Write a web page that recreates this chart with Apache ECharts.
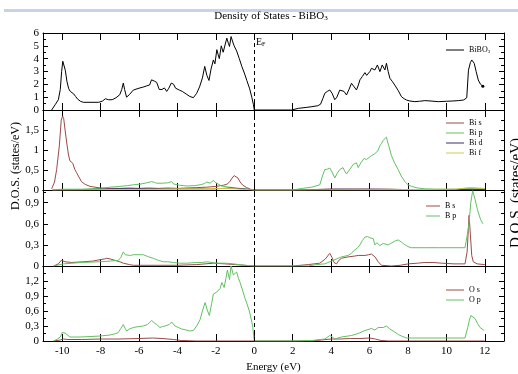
<!DOCTYPE html>
<html>
<head>
<meta charset="utf-8">
<script src="https://cdn.jsdelivr.net/npm/echarts@6/dist/echarts.min.js"></script>
<style>
  html, body { margin: 0; padding: 0; background: #fff; }
  #chart { width: 518px; height: 374px; }
</style>
</head>
<body>
<div id="chart"></div>
<script>
// Energy grid ticks (eV)
const energyTicks = [-10, -8, -6, -4, -2, 0, 2, 4, 6, 8, 10, 12];

// Total density of states, BiBO3: [energy, states/eV]
const totalDos = [[-10.55,0],[-10.35,0.45],[-10.2,0.8],[-10.1,1.6],[-10.03,3.0],[-9.97,3.8],[-9.9,3.7],[-9.84,3.1],[-9.75,2.2],[-9.66,1.65],[-9.58,1.45],[-9.5,1.5],[-9.4,1.25],[-9.3,1.05],[-9.2,0.85],[-9.05,0.68],[-8.9,0.6],[-8.5,0.6],[-8.1,0.6],[-7.9,0.7],[-7.75,0.88],[-7.6,0.8],[-7.4,0.8],[-7.2,0.95],[-7.0,1.2],[-6.9,1.6],[-6.82,2.1],[-6.75,1.6],[-6.65,1.0],[-6.5,1.2],[-6.3,1.55],[-6.0,1.7],[-5.8,1.78],[-5.6,1.88],[-5.45,1.95],[-5.35,2.35],[-5.2,2.25],[-5.08,2.15],[-4.95,1.6],[-4.8,1.6],[-4.68,1.72],[-4.56,1.45],[-4.45,1.7],[-4.32,2.1],[-4.2,2.0],[-4.1,1.7],[-3.9,1.55],[-3.75,1.45],[-3.55,1.25],[-3.35,1.05],[-3.17,0.96],[-3.0,1.3],[-2.85,1.8],[-2.7,2.5],[-2.58,3.4],[-2.47,2.7],[-2.36,2.3],[-2.25,3.2],[-2.13,3.9],[-2.05,3.6],[-1.95,4.7],[-1.88,4.3],[-1.82,4.0],[-1.72,5.0],[-1.62,4.5],[-1.55,4.4],[-1.43,5.6],[-1.35,5.2],[-1.29,4.95],[-1.21,5.72],[-1.12,5.3],[-1.05,5.0],[-0.92,4.6],[-0.78,4.0],[-0.65,3.4],[-0.5,2.8],[-0.39,2.3],[-0.25,1.7],[-0.13,1.0],[-0.05,0.45],[0,0],[1.93,0],[2.3,0.13],[2.7,0.2],[3.0,0.26],[3.3,0.33],[3.45,0.45],[3.57,0.9],[3.67,1.3],[3.8,1.45],[3.93,1.56],[4.05,1.3],[4.19,0.8],[4.3,1.0],[4.45,1.55],[4.54,1.7],[4.67,1.45],[4.8,1.17],[4.93,1.6],[5.06,2.08],[5.2,1.8],[5.32,1.56],[5.42,1.95],[5.5,2.35],[5.62,2.6],[5.76,2.91],[5.85,2.7],[5.93,2.6],[6.02,3.0],[6.1,3.25],[6.2,3.2],[6.28,3.12],[6.41,3.51],[6.54,2.99],[6.66,3.51],[6.8,3.12],[6.88,3.64],[6.97,3.0],[7.06,2.47],[7.2,2.2],[7.31,1.95],[7.5,1.5],[7.66,1.04],[7.8,0.88],[7.92,0.78],[8.1,0.7],[8.36,0.65],[8.6,0.68],[8.88,0.73],[9.2,0.7],[9.58,0.65],[10.0,0.68],[10.3,0.7],[10.62,0.73],[10.9,0.78],[11.06,0.95],[11.15,3.1],[11.25,3.7],[11.32,3.9],[11.45,3.64],[11.55,3.0],[11.66,2.34],[11.78,2.0],[11.9,1.85]];

// Bi projected DOS
const biS = [[-10.55,0.03],[-10.4,0.2],[-10.29,0.51],[-10.15,1.1],[-10.05,1.75],[-9.98,1.85],[-9.92,1.78],[-9.85,1.5],[-9.77,1.2],[-9.68,0.9],[-9.6,0.73],[-9.52,0.68],[-9.45,0.67],[-9.35,0.52],[-9.25,0.43],[-9.1,0.3],[-9.0,0.21],[-8.8,0.14],[-8.55,0.09],[-8.0,0.05],[-7.5,0.04],[-7.0,0.04],[-6.5,0.05],[-6.0,0.04],[-5.5,0.05],[-5.0,0.04],[-4.5,0.05],[-4.0,0.04],[-3.5,0.05],[-3.0,0.06],[-2.5,0.07],[-2.0,0.09],[-1.6,0.12],[-1.4,0.15],[-1.26,0.22],[-1.15,0.3],[-1.05,0.36],[-0.95,0.37],[-0.85,0.3],[-0.74,0.2],[-0.6,0.12],[-0.4,0.06],[-0.2,0.02],[0,0],[2,0],[3,0.01],[4,0.02],[5,0.02],[6,0.02],[7,0.02],[8,0.01],[9,0.01],[10.5,0.01],[11.2,0.03],[11.5,0.02],[12,0.01]];
const biP = [[-10.5,0],[-10.0,0.02],[-9,0.02],[-8,0.04],[-7.51,0.07],[-7.0,0.09],[-6.6,0.11],[-6.3,0.13],[-5.9,0.15],[-5.6,0.18],[-5.34,0.21],[-5.2,0.19],[-5.08,0.17],[-4.8,0.17],[-4.5,0.18],[-4.3,0.21],[-4.2,0.15],[-3.9,0.12],[-3.5,0.1],[-3.1,0.11],[-2.82,0.13],[-2.6,0.16],[-2.47,0.2],[-2.3,0.17],[-2.13,0.24],[-2.0,0.18],[-1.95,0.15],[-1.7,0.1],[-1.43,0.08],[-1.0,0.05],[-0.5,0.03],[0,0],[2.0,0],[2.5,0.04],[2.98,0.07],[3.41,0.13],[3.55,0.35],[3.67,0.51],[3.8,0.52],[3.93,0.55],[4.05,0.45],[4.19,0.3],[4.32,0.42],[4.45,0.51],[4.62,0.56],[4.7,0.48],[4.8,0.4],[4.95,0.5],[5.15,0.64],[5.32,0.68],[5.41,0.56],[5.55,0.68],[5.72,0.79],[5.83,0.76],[5.93,0.73],[6.1,0.86],[6.25,0.9],[6.36,0.94],[6.45,1.0],[6.54,1.11],[6.63,1.17],[6.71,1.24],[6.8,1.2],[6.88,1.32],[6.94,1.2],[7.0,1.11],[7.14,0.86],[7.3,0.68],[7.49,0.51],[7.65,0.35],[7.84,0.21],[8.0,0.13],[8.19,0.09],[8.5,0.05],[8.88,0.03],[9.5,0.02],[10.5,0.02],[11.0,0.04],[11.3,0.05],[11.6,0.04],[12,0.03]];
const biD = [[-10.5,0],[-9,0.01],[-7,0.03],[-6,0.03],[-5,0.03],[-4,0.03],[-3,0.03],[-2,0.03],[-1.2,0.05],[-0.6,0.03],[0,0],[2,0],[4,0.02],[6,0.02],[8,0.01],[10,0.01],[12,0.01]];
const biF = [[-10.5,0],[-7,0.01],[-5,0.02],[-4,0.03],[-3,0.03],[-2,0.04],[-1,0.03],[0,0],[2,0],[8,0.01],[10.5,0.02],[11,0.05],[11.3,0.06],[11.6,0.05],[12,0.04]];

// B projected DOS
const bS = [[-10.45,0],[-10.2,0.03],[-10.05,0.08],[-9.97,0.1],[-9.85,0.06],[-9.77,0.04],[-9.5,0.05],[-8.9,0.06],[-8.4,0.07],[-8.03,0.09],[-7.8,0.1],[-7.68,0.11],[-7.5,0.1],[-7.25,0.08],[-7.0,0.06],[-6.82,0.04],[-6.5,0.02],[-6.3,0.01],[-5,0.01],[-4,0.01],[-3,0.02],[-2.13,0.04],[-1.5,0.03],[-1.0,0.02],[-0.5,0.01],[0,0],[2,0],[2.81,0.02],[3.41,0.04],[3.7,0.1],[3.93,0.18],[4.05,0.12],[4.15,0.05],[4.28,0.03],[4.4,0.08],[4.54,0.11],[4.89,0.13],[5.2,0.14],[5.41,0.15],[5.76,0.15],[5.95,0.16],[6.1,0.17],[6.2,0.15],[6.28,0.13],[6.45,0.06],[6.62,0.01],[7.14,0],[7.6,0.01],[8.01,0.03],[8.5,0.04],[8.88,0.05],[9.3,0.05],[9.75,0.04],[10.4,0.03],[10.97,0.03],[11.08,0.2],[11.14,0.5],[11.18,0.72],[11.25,0.45],[11.32,0.15],[11.4,0.06],[11.6,0.03],[12,0.02]];
const bP = [[-10.45,0],[-9.94,0.03],[-9.0,0.05],[-8.03,0.06],[-7.5,0.07],[-7.08,0.08],[-6.95,0.12],[-6.82,0.2],[-6.72,0.16],[-6.64,0.14],[-6.45,0.15],[-6.3,0.16],[-6.0,0.16],[-5.78,0.16],[-5.5,0.13],[-5.26,0.11],[-5.0,0.08],[-4.74,0.06],[-4.5,0.06],[-4.22,0.05],[-3.9,0.04],[-3.52,0.04],[-3.0,0.05],[-2.7,0.05],[-2.47,0.06],[-2.2,0.05],[-1.95,0.04],[-1.5,0.04],[-1.08,0.03],[-0.5,0.01],[0,0],[2.81,0],[3.2,0.02],[3.67,0.03],[4.11,0.08],[4.54,0.13],[4.89,0.15],[5.05,0.18],[5.24,0.23],[5.38,0.26],[5.5,0.3],[5.62,0.36],[5.76,0.41],[5.9,0.42],[6.02,0.4],[6.19,0.39],[6.28,0.3],[6.38,0.33],[6.45,0.33],[6.54,0.29],[6.62,0.31],[6.71,0.32],[6.85,0.31],[6.97,0.3],[7.1,0.32],[7.23,0.34],[7.36,0.36],[7.49,0.37],[7.58,0.35],[7.66,0.34],[7.8,0.31],[7.92,0.29],[8.05,0.27],[8.19,0.26],[8.88,0.26],[9.6,0.26],[10.3,0.26],[10.97,0.26],[11.06,0.4],[11.18,0.6],[11.27,0.9],[11.37,1.07],[11.5,0.94],[11.62,0.8],[11.78,0.66],[11.9,0.6]];

// O projected DOS
const oS = [[-10.45,0],[-10.1,0.02],[-9.94,0.04],[-9.7,0.03],[-9,0.03],[-8,0.04],[-7,0.04],[-6,0.05],[-5.3,0.06],[-4.8,0.05],[-4.2,0.03],[-3.8,0.01],[-3,0],[0,0],[3,0],[3.5,0.02],[4,0.04],[4.5,0.04],[5,0.05],[5.5,0.05],[6.0,0.06],[6.3,0.04],[6.6,0.01],[7,0],[12,0]];
const oP = [[-10.45,0],[-10.25,0.04],[-10.1,0.08],[-10.0,0.17],[-9.94,0.2],[-9.85,0.16],[-9.77,0.12],[-9.6,0.08],[-9.07,0.08],[-8.5,0.09],[-8.03,0.1],[-7.51,0.12],[-7.2,0.15],[-7.08,0.17],[-6.95,0.25],[-6.82,0.33],[-6.72,0.25],[-6.64,0.2],[-6.5,0.24],[-6.3,0.27],[-6.0,0.29],[-5.78,0.3],[-5.56,0.33],[-5.45,0.37],[-5.34,0.41],[-5.2,0.36],[-5.08,0.33],[-4.91,0.27],[-4.78,0.29],[-4.65,0.3],[-4.56,0.27],[-4.43,0.33],[-4.3,0.38],[-4.2,0.34],[-4.13,0.3],[-3.95,0.27],[-3.78,0.24],[-3.55,0.22],[-3.34,0.2],[-3.17,0.21],[-3.0,0.3],[-2.82,0.43],[-2.7,0.6],[-2.56,0.77],[-2.45,0.62],[-2.34,0.51],[-2.22,0.75],[-2.13,0.94],[-1.95,0.98],[-1.86,0.94],[-1.78,1.05],[-1.69,1.17],[-1.57,1.07],[-1.48,1.25],[-1.4,1.42],[-1.29,1.23],[-1.21,1.5],[-1.09,1.32],[-0.92,1.38],[-0.82,1.25],[-0.74,1.17],[-0.6,1.0],[-0.48,0.85],[-0.36,0.72],[-0.26,0.6],[-0.15,0.42],[-0.08,0.28],[0,0],[2,0],[2.98,0.01],[3.67,0.04],[3.93,0.11],[4.05,0.08],[4.19,0.04],[4.35,0.06],[4.54,0.08],[5.06,0.11],[5.41,0.15],[5.76,0.21],[6.1,0.25],[6.28,0.22],[6.45,0.27],[6.71,0.27],[6.88,0.3],[7.06,0.24],[7.31,0.18],[7.5,0.13],[7.66,0.1],[7.92,0.06],[8.88,0.06],[10.0,0.06],[10.97,0.06],[11.11,0.27],[11.2,0.42],[11.28,0.51],[11.38,0.48],[11.49,0.45],[11.62,0.35],[11.75,0.27],[11.97,0.21]];

// Panel y ranges and tick steps
const panelMax = [6, 2, 1.08, 1.5];
const panelStep = [1, 0.5, 0.3, 0.3];

const FONT = 'Liberation Serif';
const COL_S = '#9a4a48', COL_P = '#62c062', COL_D = '#3b2e60', COL_F = '#d2c64a';

const gridTop = [33, 110, 190, 266];
const gridHeight = [77, 80, 76, 78];

const grids = gridTop.map((t, i) => ({ left: 43, right: 14, top: t, height: gridHeight[i] }));

const xAxes = [];
const yAxes = [];
for (let i = 0; i < 4; i++) {
  const last = i === 3;
  xAxes.push({
    type: 'value', gridIndex: i, min: -11, max: 13, position: 'bottom',
    axisLine: { show: true, onZero: false, lineStyle: { color: '#000', width: 1 } },
    axisTick: { show: true, inside: true, length: 7, customValues: energyTicks, lineStyle: { color: '#000' } },
    axisLabel: { show: last, customValues: energyTicks, margin: 5, color: '#000', fontFamily: FONT, fontSize: 11 },
    splitLine: { show: false },
    name: last ? 'Energy (eV)' : '', nameLocation: 'middle', nameGap: 21,
    nameTextStyle: { color: '#000', fontFamily: FONT, fontSize: 11 }
  });
  xAxes.push({
    type: 'value', gridIndex: i, min: -11, max: 13, position: 'top',
    axisLine: { show: true, onZero: false, lineStyle: { color: '#000', width: 1 } },
    axisTick: { show: true, inside: true, length: 7, customValues: energyTicks, lineStyle: { color: '#000' } },
    axisLabel: { show: false }, splitLine: { show: false }
  });
  const common = {
    type: 'value', gridIndex: i, min: 0, max: panelMax[i], interval: panelStep[i],
    axisLine: { show: true, onZero: false, lineStyle: { color: '#000', width: 1 } },
    axisTick: { show: true, inside: true, length: 5, lineStyle: { color: '#000' } },
    minorTick: { show: true, splitNumber: 2, length: 3, lineStyle: { color: '#000' } },
    splitLine: { show: false }
  };
  yAxes.push(Object.assign({}, common, {
    position: 'left',
    axisLabel: {
      show: true, margin: 4, color: '#000', fontFamily: FONT, fontSize: 11,
      showMaxLabel: i === 0,
      formatter: v => String(Math.round(v * 100) / 100).replace('.', ',')
    }
  }));
  yAxes.push(Object.assign({}, common, { position: 'right', axisLabel: { show: false } }));
}

function line(name, data, color, panel, extra) {
  return Object.assign({
    name, type: 'line', data, xAxisIndex: panel * 2, yAxisIndex: panel * 2,
    symbol: 'none', showSymbol: false, smooth: false, animation: false,
    lineStyle: { color, width: 1 }, itemStyle: { color }
  }, extra || {});
}

// Fermi level marker in every panel
const fermi = {
  symbol: 'none', silent: true, label: { show: false },
  lineStyle: { color: '#000', type: [4, 3], width: 1 },
  data: [{ xAxis: 0 }]
};

const totalData = totalDos.map((p, k) => k === totalDos.length - 1
  ? { value: p, symbol: 'circle', symbolSize: 3 } : p);

const series = [
  line('BiBO3', totalData, '#000', 0, { showSymbol: true, markLine: fermi }),
  line('Bi s', biS, COL_S, 1, { markLine: fermi }),
  line('Bi p', biP, COL_P, 1),
  line('Bi d', biD, COL_D, 1),
  line('Bi f', biF, COL_F, 1),
  line('B s', bS, COL_S, 2, { markLine: fermi }),
  line('B p', bP, COL_P, 2),
  line('O s', oS, COL_S, 3, { markLine: fermi }),
  line('O p', oP, COL_P, 3)
];

const legendText = { color: '#000', fontFamily: FONT, fontSize: 8, lineHeight: 10,
  rich: { n: { fontFamily: FONT, fontSize: 8, color: '#000' }, s: { fontFamily: FONT, fontSize: 5, color: '#000', padding: [4, 0, 0, 0] } } };
function legendAt(names, left, top, w) {
  return {
    data: names, left, top, orient: 'vertical', padding: 0, itemGap: 0,
    icon: 'rect', itemWidth: w, itemHeight: 1, selectedMode: false, textStyle: legendText,
    formatter: n => n === 'BiBO3' ? '{n|BiBO}{s|3}' : n
  };
}

const option = {
  backgroundColor: '#fff',
  animation: false,
  grid: grids,
  xAxis: xAxes,
  yAxis: yAxes,
  legend: [
    legendAt(['BiBO3'], 446, 45, 18),
    legendAt(['Bi s', 'Bi p', 'Bi d', 'Bi f'], 446, 118, 18),
    legendAt(['B s', 'B p'], 426, 201, 14),
    legendAt(['O s', 'O p'], 446, 285, 18)
  ],
  series,
  graphic: [
    { type: 'rect', left: 4, top: 9, shape: { width: 514, height: 3 }, style: { fill: '#c8d2e6' }, silent: true },
    { type: 'text', x: 271, y: 16, silent: true,
      style: { text: '{t|Density of States - BiBO}{s|3}', align: 'center', verticalAlign: 'middle',
        rich: { t: { fontFamily: FONT, fontSize: 11, fill: '#000' }, s: { fontFamily: FONT, fontSize: 7, fill: '#000', padding: [5, 0, 0, 0] } } } },
    { type: 'text', x: 256, y: 42, silent: true,
      style: { text: '{e|E}{f|F}', align: 'left', verticalAlign: 'middle',
        rich: { e: { fontFamily: FONT, fontSize: 10, fill: '#000' }, f: { fontFamily: FONT, fontSize: 6, fill: '#000', padding: [5, 0, 0, 0] } } } },
    { type: 'text', x: 16, y: 166, rotation: Math.PI / 2, silent: true,
      style: { text: 'D.O.S. (states/eV)', align: 'center', verticalAlign: 'middle', fontFamily: FONT, fontSize: 12, fill: '#000' } },
    { type: 'text', x: 516, y: 193, rotation: Math.PI / 2, silent: true,
      style: { text: 'D.O.S. (states/eV)', align: 'center', verticalAlign: 'middle', fontFamily: FONT, fontSize: 15, fill: '#000' } }
  ]
};

const chart = echarts.init(document.getElementById('chart'), null, { renderer: 'canvas' });
chart.setOption(option);
</script>
</body>
</html>
